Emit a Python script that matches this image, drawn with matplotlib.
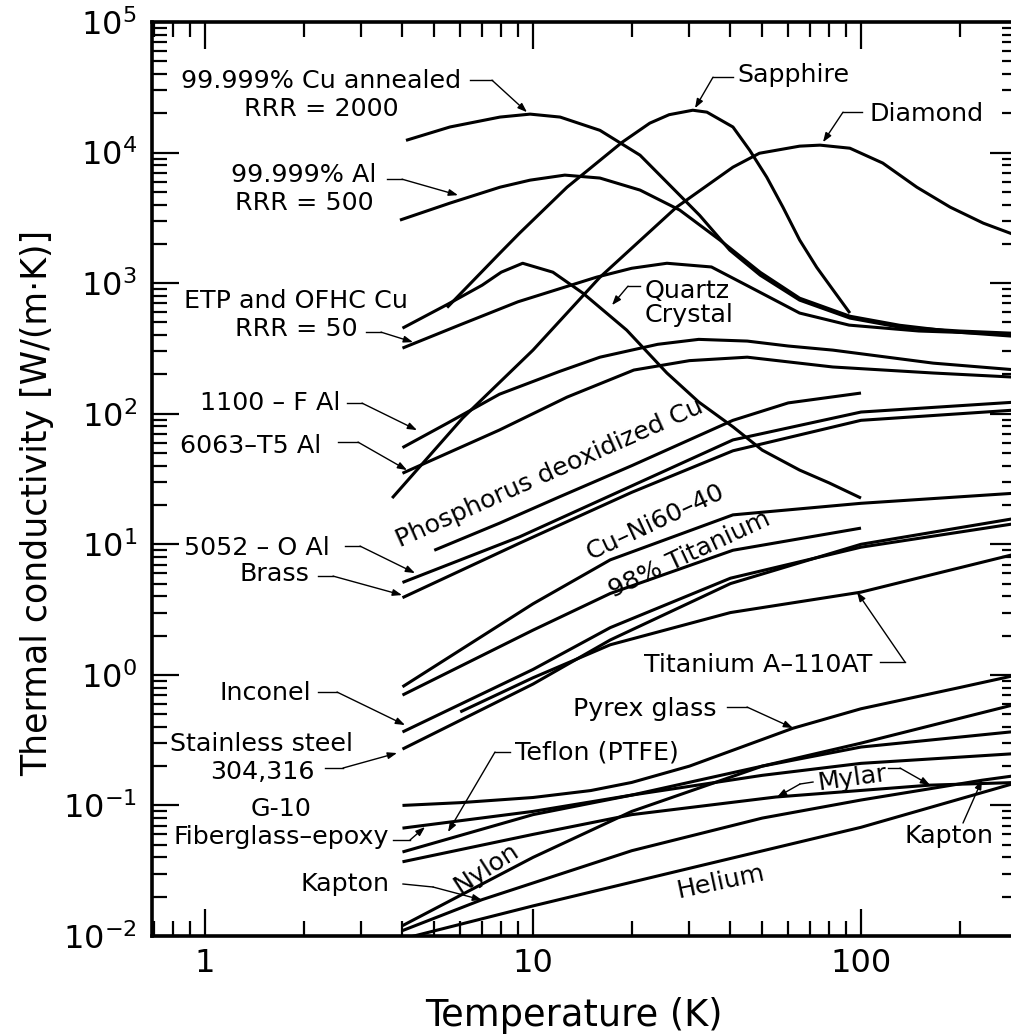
import numpy as np
import matplotlib
matplotlib.use("Agg")
import matplotlib.pyplot as plt
from matplotlib.ticker import LogLocator, FixedLocator, NullFormatter

plt.rcParams['font.family'] = ['DejaVu Sans']
plt.rcParams['mathtext.fontset'] = 'dejavusans'

# ---------------- data (T in K, k in W/(m K)) ----------------
cu_annealed_T = [4.1, 5.58, 7.93, 9.8, 12.1, 16.0, 21.2, 28.0, 32.2, 39.8, 49.3, 65.0, 92.5, 131, 200, 300]
cu_annealed_k = [12400, 15700, 18700, 19700, 18700, 14800, 9550, 4720, 3310, 1790, 1150, 741, 540, 460, 430, 412]

al_pure_T = [3.93, 5.58, 7.93, 9.8, 12.5, 16, 21.2, 28, 37.2, 49.3, 65, 92.5, 131, 200, 300]
al_pure_k = [3040, 4100, 5430, 6150, 6720, 6380, 5160, 3630, 2130, 1210, 767, 558, 476, 420, 390]

etp_cu_T = [4, 6, 9, 15.6, 20, 25.6, 35, 46, 65, 92, 150, 300]
etp_cu_k = [318, 480, 720, 1110, 1300, 1420, 1330, 930, 590, 477, 430, 405]

quartz_T = [4, 5.5, 7, 8, 9.3, 11.5, 14.2, 19.3, 25.6, 32, 40.8, 50, 65, 80, 100]
quartz_k = [452, 690, 965, 1213, 1420, 1213, 838, 437, 205, 123, 79, 52.6, 37, 29.5, 22.6]

sapphire_T = [5.47, 7.93, 9.1, 12.7, 18.7, 22.7, 26, 30.7, 33.9, 40.7, 45.8, 51.6, 57.8, 65, 73.3, 82.3, 92.5]
sapphire_k = [650, 1700, 2415, 5430, 12000, 16800, 19500, 21100, 20400, 15700, 10400, 6480, 3820, 2140, 1320, 883, 590]

diamond_T = [3.72, 6.1, 10, 16, 27.4, 40.7, 49, 65, 75, 92.5, 116.5, 148, 187, 236, 300]
diamond_k = [22.6, 92.5, 307, 1110, 3820, 7730, 9880, 11200, 11400, 10800, 8310, 5430, 3820, 2880, 2300]

al1100_T = [4, 5.5, 7.9, 12, 16, 24, 32, 45, 60, 82, 166, 300]
al1100_k = [55, 85, 141, 210, 271, 340, 371, 360, 330, 307, 244, 216]

al6063_T = [4, 7.9, 12.7, 20.3, 30, 45, 82, 166, 300]
al6063_k = [35, 75, 134, 216, 255, 271, 228, 205, 190]

phos_cu_T = [5, 7.9, 12, 20, 40.7, 60, 100]
phos_cu_k = [9.0, 14.5, 23, 40, 89, 121, 144]

al5052_T = [4, 9.1, 20, 40.7, 100, 300]
al5052_k = [5.1, 11.4, 28, 63, 103, 123]

brass_T = [4, 9.1, 20, 40.7, 100, 300]
brass_k = [3.9, 10.2, 25, 52, 89, 107]

cuni_T = [4, 10, 17.2, 40.7, 100, 300]
cuni_k = [0.81, 3.5, 7.6, 16.8, 20.6, 24.7]

ti98_T = [4, 10, 17.2, 40.7, 100]
ti98_k = [0.70, 2.2, 4.2, 9.0, 13.3]

inconel_T = [4, 10, 17.2, 40, 100, 300]
inconel_k = [0.365, 1.1, 2.3, 5.5, 9.5, 14.5]

steel_T = [4, 10, 17.2, 40, 100, 300]
steel_k = [0.27, 0.85, 1.85, 5.0, 10, 15.9]

ti_a110_T = [6, 10, 17.2, 40, 100, 300]
ti_a110_k = [0.52, 0.95, 1.7, 3.0, 4.3, 8.5]

pyrex_T = [4, 6, 10, 15, 20, 30, 62, 100, 200, 300]
pyrex_k = [0.10, 0.105, 0.115, 0.13, 0.15, 0.2, 0.39, 0.55, 0.8, 1.0]

teflon_T = [4, 10, 20, 50, 100, 300]
teflon_k = [0.044, 0.085, 0.12, 0.17, 0.21, 0.25]

g10_T = [4, 10, 20, 50, 100, 300]
g10_k = [0.067, 0.09, 0.12, 0.2, 0.3, 0.6]

mylar_T = [4, 10, 20, 55, 162, 300]
mylar_k = [0.037, 0.06, 0.085, 0.116, 0.143, 0.15]

nylon_T = [4, 10, 20, 50, 100, 300]
nylon_k = [0.012, 0.04, 0.09, 0.2, 0.28, 0.37]

kapton_T = [4, 7, 20, 50, 100, 234, 300]
kapton_k = [0.011, 0.019, 0.045, 0.08, 0.11, 0.156, 0.17]

helium_T = [4, 10, 30, 100, 300]
helium_k = [0.0095, 0.017, 0.033, 0.068, 0.15]

series = [
    (cu_annealed_T, cu_annealed_k), (al_pure_T, al_pure_k), (etp_cu_T, etp_cu_k),
    (quartz_T, quartz_k), (sapphire_T, sapphire_k), (diamond_T, diamond_k),
    (al1100_T, al1100_k), (al6063_T, al6063_k), (phos_cu_T, phos_cu_k),
    (al5052_T, al5052_k), (brass_T, brass_k), (cuni_T, cuni_k), (ti98_T, ti98_k),
    (inconel_T, inconel_k), (steel_T, steel_k), (ti_a110_T, ti_a110_k),
    (pyrex_T, pyrex_k), (teflon_T, teflon_k), (g10_T, g10_k), (mylar_T, mylar_k),
    (nylon_T, nylon_k), (kapton_T, kapton_k), (helium_T, helium_k),
]

xtick_vals = [1, 10, 100]
xtick_labels = ['1', '10', '100']
ytick_vals = [1e-2, 1e-1, 1e0, 1e1, 1e2, 1e3, 1e4, 1e5]
ytick_labels = [r'$10^{-2}$', r'$10^{-1}$', r'$10^{0}$', r'$10^{1}$', r'$10^{2}$',
                r'$10^{3}$', r'$10^{4}$', r'$10^{5}$']

# ---------------- figure ----------------
W, H = 1011, 1035
fig = plt.figure(figsize=(W / 100, H / 100), dpi=100)
ax_l, ax_r, ax_t, ax_b = 152, 1017, 22, 936
ax = fig.add_axes([ax_l / W, 1 - ax_b / H, (ax_r - ax_l) / W, (ax_b - ax_t) / H])
ax.set_xscale('log')
ax.set_yscale('log')
ax.set_xlim(10 ** ((ax_l - 205) / 328), 10 ** ((ax_r - 205) / 328))
ax.set_ylim(1e-2, 1e5)

for T, k in series:
    ax.plot(T, k, color='black', lw=2.2, solid_capstyle='butt', solid_joinstyle='round')

for s in ax.spines.values():
    s.set_linewidth(2.6)

ax.xaxis.set_major_locator(FixedLocator(xtick_vals))
ax.set_xticklabels(xtick_labels)
ax.yaxis.set_major_locator(FixedLocator(ytick_vals))
ax.set_yticklabels(ytick_labels)
ax.xaxis.set_minor_locator(LogLocator(base=10, subs=np.arange(2, 10), numticks=20))
ax.yaxis.set_minor_locator(LogLocator(base=10, subs=np.arange(2, 10), numticks=20))
ax.xaxis.set_minor_formatter(NullFormatter())
ax.yaxis.set_minor_formatter(NullFormatter())
ax.tick_params(which='both', direction='in', top=True, right=True, width=1.6, colors='black')
ax.tick_params(which='major', length=19.5, labelsize=23)
ax.tick_params(which='minor', length=11)
ax.tick_params(axis='x', which='major', pad=9)
ax.tick_params(axis='y', which='major', pad=11)

fig.text(574 / W, 1 - 1015 / H, 'Temperature (K)', ha='center', va='center', fontsize=26.5)
fig.text(37 / W, 1 - 503 / H, 'Thermal conductivity [W/(m·K)]', ha='center', va='center',
         rotation=90, fontsize=25)


def P(x, y):
    """image pixel -> data coordinates (used for label placement only)"""
    return (10 ** ((x - 205) / 328), 10 ** (-2 + (936 - y) / 130.6))


FS = 18.3


def label(s, x, y, ha='center', rot=0, ls=1.2):
    ax.text(*P(x, y), s, ha=ha, va='center', fontsize=FS, rotation=rot,
            rotation_mode='anchor', linespacing=ls, clip_on=False)


def leader(pts):
    d = [P(*p) for p in pts]
    if len(d) > 2:
        xs, ys = zip(*d[:-1])
        ax.plot(xs, ys, color='black', lw=1.0, clip_on=False)
    ax.annotate('', xy=d[-1], xytext=d[-2],
                arrowprops=dict(arrowstyle='-|>,head_length=0.55,head_width=0.2',
                                lw=1.0, color='black', shrinkA=0, shrinkB=0))


label('99.999% Cu annealed\nRRR = 2000', 321, 95)
leader([(470, 80), (492, 80), (527, 112)])
label('99.999% Al\nRRR = 500', 304, 189)
leader([(387, 179), (402, 179), (458, 195)])
label('ETP and OFHC Cu\nRRR = 50', 296, 315)
leader([(366, 332), (381, 332), (413, 342)])
label('1100 – F Al', 270, 403)
leader([(347, 403), (362, 403), (417, 430)])
label('6063–T5 Al', 251, 446)
leader([(338, 442), (358, 442), (407, 470)])
label('5052 – O Al', 257, 548)
leader([(345, 546), (360, 546), (415, 573)])
label('Brass', 274, 574)
leader([(318, 576), (333, 576), (402, 595)])
label('Inconel', 265, 693)
leader([(318, 692), (337, 692), (405, 725)])
label('Stainless steel\n304,316', 262, 758)
leader([(325, 768), (343, 768), (397, 753)])
label('G-10\nFiberglass–epoxy', 281, 823)
leader([(393, 840), (410, 840), (425, 827)])
label('Kapton', 345, 884)
leader([(403, 884), (433, 887), (482, 900)])
label('Teflon (PTFE)', 515, 752, ha='left')
leader([(510, 752), (495, 752), (448, 832)])
label('Pyrex glass', 645, 709)
leader([(727, 707), (747, 707), (793, 728)])
label('Mylar', 852, 778, rot=8)
leader([(813, 782), (800, 784), (777, 797)])
leader([(888, 768), (900, 768), (930, 785)])
label('Kapton', 949, 836)
leader([(963, 823), (982, 780)])
label('Nylon', 486, 868, rot=33)
label('Helium', 721, 882, rot=12)
label('Titanium A–110AT', 758, 665)
leader([(880, 662), (905, 662), (857, 592)])
label('Phosphorus deoxidized Cu', 550, 473, rot=24)
label('Cu–Ni60–40', 655, 522, rot=25)
label('98% Titanium', 690, 555, rot=25)
label('Sapphire', 793, 75)
leader([(733, 77), (713, 77), (695, 108)])
label('Diamond', 927, 114)
leader([(862, 112), (843, 112), (823, 142)])
label('Quartz\nCrystal', 645, 303, ha='left', ls=1.0)
leader([(640, 286), (628, 286), (612, 305)])

fig.savefig('out.png', dpi=100)
